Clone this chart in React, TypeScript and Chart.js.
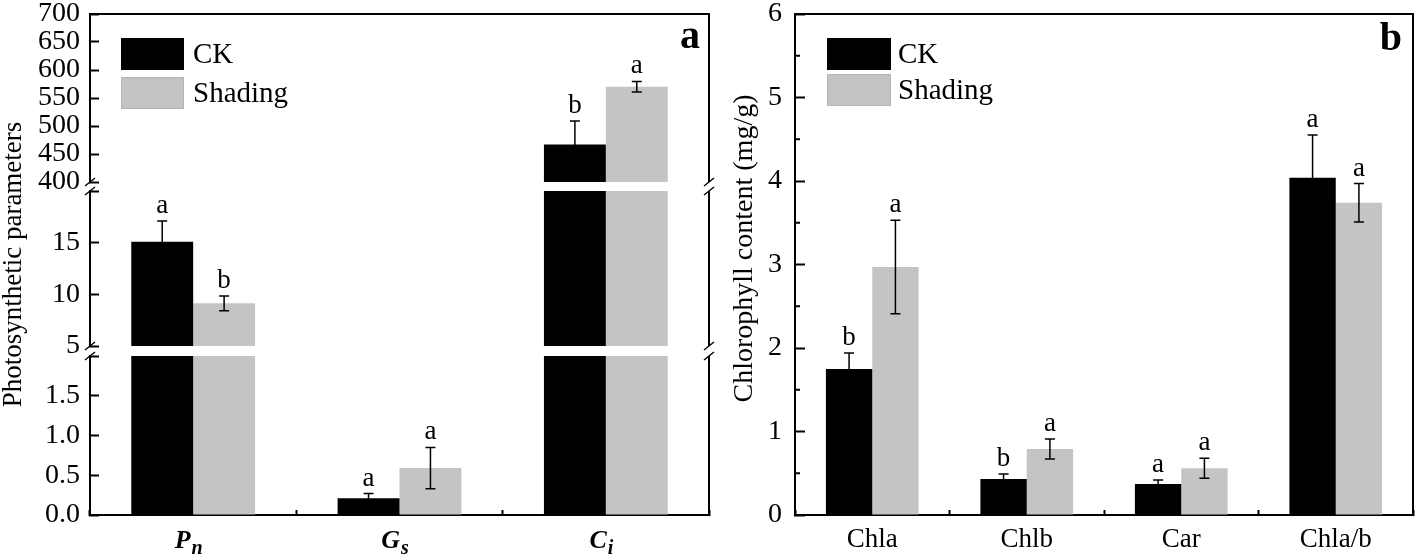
import React, { useEffect, useRef } from 'react';
import { Chart, registerables } from 'chart.js';

Chart.register(...registerables);

const SERIF = "'Liberation Serif', 'Times New Roman', serif";

// ---------- Panel a data ----------
const categoriesA = ['Pn', 'Gs', 'Ci'];
const categoryMainA = ['P', 'G', 'C'];
const categorySubA = ['n', 's', 'i'];
const ckA = [15.1, 0.21, 467];
const ckErrA = [2.0, 0.06, 42];
const shadingA = [9.13, 0.59, 570];
const shadingErrA = [0.71, 0.26, 9.5];
const ckLettersA = ['a', 'a', 'b'];
const shadingLettersA = ['b', 'a', 'a'];
// broken y axis segments (bottom to top)
const segLowA = { id: 'yLow', min: 0, max: 2, step: 0.5, decimals: 1, hideMax: true };
const segMidA = { id: 'yMid', min: 5, max: 20, step: 5, decimals: 0, hideMax: true };
const segTopA = { id: 'yTop', min: 400, max: 700, step: 50, decimals: 0, hideMax: false };
const yTitleA = 'Photosynthetic parameters';

// ---------- Panel b data ----------
const categoriesB = ['Chla', 'Chlb', 'Car', 'Chla/b'];
const ckB = [1.75, 0.43, 0.37, 4.04];
const ckErrB = [0.19, 0.06, 0.05, 0.51];
const shadingB = [2.97, 0.79, 0.56, 3.74];
const shadingErrB = [0.56, 0.12, 0.12, 0.23];
const ckLettersB = ['b', 'b', 'a', 'a'];
const shadingLettersB = ['a', 'a', 'a', 'a'];
const yTicksB = { min: 0, max: 6, step: 1 };
const yTitleB = 'Chlorophyll content (mg/g)';

const seriesNames = ['CK', 'Shading'];
const seriesColors = ['#000000', '#c4c4c4'];
const seriesEdges = ['#000000', '#b4b4b4'];

// ---------- plugins ----------
function pixelOn(chart: any, axisIds: string[], v: number) {
  const scales = axisIds.map((id) => chart.scales[id]);
  for (const s of scales) {
    if (v >= s.min - 1e-9 && v <= s.max + 1e-9) return s.getPixelForValue(v);
  }
  let chosen = scales[0];
  let val = scales[0].min;
  for (const s of scales) {
    if (v > s.max) { chosen = s; val = s.max; }
  }
  return chosen.getPixelForValue(val);
}

function errorBarPlugin(cfg: { axes: string[]; series: { dsIndex: number; values: number[]; errors: number[]; letters: string[] }[] }) {
  return {
    id: 'errorBars',
    afterDatasetsDraw(chart: any) {
      const ctx = chart.ctx;
      ctx.save();
      ctx.strokeStyle = '#000';
      ctx.fillStyle = '#000';
      ctx.lineWidth = 1.5;
      ctx.font = `27px ${SERIF}`;
      ctx.textAlign = 'center';
      ctx.textBaseline = 'alphabetic';
      cfg.series.forEach((ser) => {
        const meta = chart.getDatasetMeta(ser.dsIndex);
        ser.values.forEach((v, i) => {
          const x = meta.data[i].x;
          const yHi = pixelOn(chart, cfg.axes, v + ser.errors[i]);
          const yLo = pixelOn(chart, cfg.axes, v - ser.errors[i]);
          ctx.beginPath();
          ctx.moveTo(x, yHi);
          ctx.lineTo(x, yLo);
          ctx.moveTo(x - 5, yHi);
          ctx.lineTo(x + 5, yHi);
          ctx.moveTo(x - 5, yLo);
          ctx.lineTo(x + 5, yLo);
          ctx.stroke();
          ctx.fillText(ser.letters[i], x, yHi - 8);
        });
      });
      ctx.restore();
    },
  };
}

function legendPlugin(o: { x: number; y: number; w: number; h: number; step: number; textX: number }) {
  return {
    id: 'insetLegend',
    afterDraw(chart: any) {
      const ctx = chart.ctx;
      ctx.save();
      seriesNames.forEach((name, k) => {
        const y = o.y + k * o.step;
        ctx.fillStyle = seriesColors[k];
        ctx.fillRect(o.x, y, o.w, o.h);
        ctx.strokeStyle = seriesEdges[k];
        ctx.lineWidth = 1;
        ctx.strokeRect(o.x + 0.5, y + 0.5, o.w - 1, o.h - 1);
        ctx.fillStyle = '#000';
        ctx.font = `29px ${SERIF}`;
        ctx.textAlign = 'left';
        ctx.textBaseline = 'middle';
        ctx.fillText(name, o.textX, y + o.h / 2 + 1);
      });
      ctx.restore();
    },
  };
}

function panelLetterPlugin(letter: string, dx: number, baseline: number) {
  return {
    id: 'panelLetter',
    afterDraw(chart: any) {
      const ctx = chart.ctx;
      ctx.save();
      ctx.fillStyle = '#000';
      ctx.font = `bold 40px ${SERIF}`;
      ctx.textAlign = 'right';
      ctx.textBaseline = 'alphabetic';
      ctx.fillText(letter, chart.chartArea.right - dx, baseline);
      ctx.restore();
    },
  };
}

function yTitlePlugin(text: string, x: number, dy: number) {
  return {
    id: 'yTitleText',
    afterDraw(chart: any) {
      const ctx = chart.ctx;
      const { top, bottom } = chart.chartArea;
      ctx.save();
      ctx.translate(x, (top + bottom) / 2 + dy);
      ctx.rotate(-Math.PI / 2);
      ctx.fillStyle = '#000';
      ctx.font = `28px ${SERIF}`;
      ctx.textAlign = 'center';
      ctx.textBaseline = 'middle';
      ctx.fillText(text, 0, 0);
      ctx.restore();
    },
  };
}

function frameAPlugin(segIds: string[]) {
  return {
    id: 'frameA',
    afterDraw(chart: any) {
      const ctx = chart.ctx;
      const { left, right, top } = chart.chartArea;
      ctx.save();
      ctx.strokeStyle = '#000';
      ctx.lineWidth = 2;
      ctx.beginPath();
      ctx.moveTo(left - 1, top);
      ctx.lineTo(right + 1, top);
      ctx.stroke();
      segIds.forEach((id) => {
        const s = chart.scales[id];
        ctx.beginPath();
        ctx.moveTo(right, s.top);
        ctx.lineTo(right, s.bottom);
        ctx.stroke();
      });
      ctx.lineWidth = 1.5;
      for (let k = 0; k < segIds.length - 1; k++) {
        const lower = chart.scales[segIds[k]];
        const upper = chart.scales[segIds[k + 1]];
        [left, right].forEach((x) => {
          [lower.top, upper.bottom].forEach((y) => {
            ctx.beginPath();
            ctx.moveTo(x - 5, y + 4);
            ctx.lineTo(x + 5, y - 4);
            ctx.stroke();
          });
        });
      }
      ctx.restore();
    },
  };
}

function segClipPlugin() {
  return {
    id: 'segClip',
    beforeDatasetDraw(chart: any, args: any) {
      const s = chart.scales[args.meta.yAxisID];
      const ctx = chart.ctx;
      ctx.save();
      ctx.beginPath();
      ctx.rect(chart.chartArea.left, s.top, chart.chartArea.right - chart.chartArea.left, s.bottom - s.top);
      ctx.clip();
    },
    afterDatasetDraw(chart: any) {
      chart.ctx.restore();
    },
  };
}

function subLabelPlugin() {
  return {
    id: 'subLabels',
    afterDraw(chart: any) {
      const ctx = chart.ctx;
      const xs = chart.scales.x;
      ctx.save();
      ctx.fillStyle = '#000';
      ctx.textAlign = 'left';
      ctx.textBaseline = 'alphabetic';
      categoryMainA.forEach((m, i) => {
        const sub = categorySubA[i];
        const x = xs.getPixelForValue(i);
        ctx.font = `italic bold 26px ${SERIF}`;
        const w1 = ctx.measureText(m).width;
        ctx.font = `italic bold 20px ${SERIF}`;
        const w2 = ctx.measureText(sub).width;
        const x0 = x - (w1 + w2) / 2 - 5;
        ctx.font = `italic bold 26px ${SERIF}`;
        ctx.fillText(m, x0, 548);
        ctx.font = `italic bold 20px ${SERIF}`;
        ctx.fillText(sub, x0 + w1 + 1, 554);
      });
      ctx.restore();
    },
  };
}

function frameBPlugin() {
  return {
    id: 'frameB',
    afterDraw(chart: any) {
      const ctx = chart.ctx;
      const { left, right, top, bottom } = chart.chartArea;
      const ys = chart.scales.y;
      ctx.save();
      ctx.strokeStyle = '#000';
      ctx.lineWidth = 2;
      ctx.beginPath();
      ctx.moveTo(left - 1, top);
      ctx.lineTo(right, top);
      ctx.lineTo(right, bottom);
      ctx.stroke();
      // minor ticks halfway between major ticks
      for (let v = ys.min + yTicksB.step / 2; v < ys.max; v += yTicksB.step) {
        const y = ys.getPixelForValue(v);
        ctx.beginPath();
        ctx.moveTo(left, y);
        ctx.lineTo(left + 5, y);
        ctx.stroke();
      }
      ctx.restore();
    },
  };
}

// ---------- configs ----------
const tickFont = { family: SERIF, size: 28, lineHeight: 1 };

function segAxis(seg: any, weight: number, stackWeight: number) {
  return {
    type: 'linear',
    position: 'left',
    stack: 'left',
    stackWeight,
    weight,
    stacked: false,
    min: seg.min,
    max: seg.max,
    afterFit: (s: any) => { s.width = 63; s.paddingTop = 0; s.paddingBottom = 0; },
    grid: { display: true, drawOnChartArea: false, drawTicks: true, tickLength: -9, tickWidth: 2, tickColor: '#000' },
    border: { display: true, color: '#000', width: 2 },
    ticks: {
      stepSize: seg.step,
      autoSkip: false,
      padding: 19,
      color: '#000',
      font: tickFont,
      callback: (v: number) => (seg.hideMax && v >= seg.max - 1e-9 ? '' : v.toFixed(seg.decimals)),
    },
  };
}

function blankAxis(extra: any) {
  return {
    type: 'linear',
    position: 'left',
    display: true,
    min: 0,
    max: 1,
    grid: { display: false, drawTicks: false },
    ticks: { display: false },
    border: { display: false },
    ...extra,
  };
}

function configA(): any {
  const segs = [segLowA, segMidA, segTopA];
  const barCommon = { borderWidth: 0, barPercentage: 1, categoryPercentage: 0.6 };
  return {
    type: 'bar',
    data: {
      labels: categoriesA,
      datasets: [
        ...segs.map((s) => ({ label: seriesNames[0], data: ckA, yAxisID: s.id, stack: 'CK', backgroundColor: seriesColors[0], ...barCommon })),
        ...segs.map((s) => ({ label: seriesNames[1], data: shadingA, yAxisID: s.id, stack: 'Shading', backgroundColor: seriesColors[1], ...barCommon })),
      ],
    },
    options: {
      responsive: false,
      animation: false,
      events: [],
      layout: { padding: { left: 0, right: 6, top: 14, bottom: 0 } },
      plugins: { legend: { display: false }, tooltip: { enabled: false } },
      scales: {
        x: {
          type: 'category',
          offset: true,
          afterFit: (s: any) => { s.height = 45; s.paddingLeft = 0; s.paddingRight = 0; },
          grid: { display: true, offset: true, drawOnChartArea: false, drawTicks: true, tickLength: -5, tickWidth: 2, tickColor: '#000' },
          border: { display: true, color: '#000', width: 2 },
          ticks: { display: false },
        },
        yTitle: blankAxis({
          weight: 10,
          afterFit: (s: any) => { s.width = 27; s.paddingTop = 0; s.paddingBottom = 0; },
          title: { display: true, text: yTitleA, color: '#000', font: { family: SERIF, size: 27, lineHeight: 1 }, padding: 0 },
        }),
        yTop: segAxis(segTopA, 5, 168),
        gap2: blankAxis({ stack: 'left', stackWeight: 9, weight: 4, afterFit: (s: any) => { s.width = 63; s.paddingTop = 0; s.paddingBottom = 0; } }),
        yMid: segAxis(segMidA, 3, 155),
        gap1: blankAxis({ stack: 'left', stackWeight: 10, weight: 2, afterFit: (s: any) => { s.width = 63; s.paddingTop = 0; s.paddingBottom = 0; } }),
        yLow: segAxis(segLowA, 1, 159),
      },
    },
    plugins: [
      segClipPlugin(),
      errorBarPlugin({
        axes: segs.map((s) => s.id),
        series: [
          { dsIndex: 0, values: ckA, errors: ckErrA, letters: ckLettersA },
          { dsIndex: 3, values: shadingA, errors: shadingErrA, letters: shadingLettersA },
        ],
      }),
      frameAPlugin(segs.map((s) => s.id)),
      subLabelPlugin(),
      legendPlugin({ x: 121, y: 38, w: 63, h: 32, step: 39, textX: 193 }),
      panelLetterPlugin('a', 9, 48),
    ],
  };
}

function configB(): any {
  const barCommon = { borderWidth: 0, barPercentage: 1, categoryPercentage: 0.6 };
  return {
    type: 'bar',
    data: {
      labels: categoriesB,
      datasets: [
        { label: seriesNames[0], data: ckB, backgroundColor: seriesColors[0], ...barCommon },
        { label: seriesNames[1], data: shadingB, backgroundColor: seriesColors[1], ...barCommon },
      ],
    },
    options: {
      responsive: false,
      animation: false,
      events: [],
      layout: { padding: { left: 0, right: 5, top: 14, bottom: 0 } },
      plugins: { legend: { display: false }, tooltip: { enabled: false } },
      scales: {
        x: {
          type: 'category',
          offset: true,
          afterFit: (s: any) => { s.height = 45; },
          grid: { display: true, offset: true, drawOnChartArea: false, drawTicks: true, tickLength: -5, tickWidth: 2, tickColor: '#000' },
          border: { display: true, color: '#000', width: 2 },
          ticks: { color: '#000', padding: 14, font: { family: SERIF, size: 27, lineHeight: 1.2 }, maxRotation: 0 },
        },
        y: {
          type: 'linear',
          position: 'left',
          min: yTicksB.min,
          max: yTicksB.max,
          afterFit: (s: any) => { s.width = 80; s.paddingTop = 0; s.paddingBottom = 0; },
          grid: { display: true, drawOnChartArea: false, drawTicks: true, tickLength: -10, tickWidth: 2, tickColor: '#000' },
          border: { display: true, color: '#000', width: 2 },
          ticks: { stepSize: yTicksB.step, autoSkip: false, padding: 23, color: '#000', font: tickFont },
        },
      },
    },
    plugins: [
      errorBarPlugin({
        axes: ['y'],
        series: [
          { dsIndex: 0, values: ckB, errors: ckErrB, letters: ckLettersB },
          { dsIndex: 1, values: shadingB, errors: shadingErrB, letters: shadingLettersB },
        ],
      }),
      frameBPlugin(),
      yTitlePlugin(yTitleB, 30, -16),
      legendPlugin({ x: 112, y: 38, w: 64, h: 32, step: 36, textX: 183 }),
      panelLetterPlugin('b', 11, 50),
    ],
  };
}

export default function App() {
  const refA = useRef<HTMLCanvasElement>(null);
  const refB = useRef<HTMLCanvasElement>(null);
  useEffect(() => {
    const a = new Chart(refA.current as HTMLCanvasElement, configA());
    const b = new Chart(refB.current as HTMLCanvasElement, configB());
    return () => {
      a.destroy();
      b.destroy();
    };
  }, []);
  return (
    <div style={{ position: 'fixed', left: 0, top: 0, width: 1418, height: 560, background: '#fff' }}>
      <canvas ref={refA} width={715} height={560} style={{ position: 'absolute', left: 0, top: 0, width: 715, height: 560 }} />
      <canvas ref={refB} width={703} height={560} style={{ position: 'absolute', left: 715, top: 0, width: 703, height: 560 }} />
    </div>
  );
}
